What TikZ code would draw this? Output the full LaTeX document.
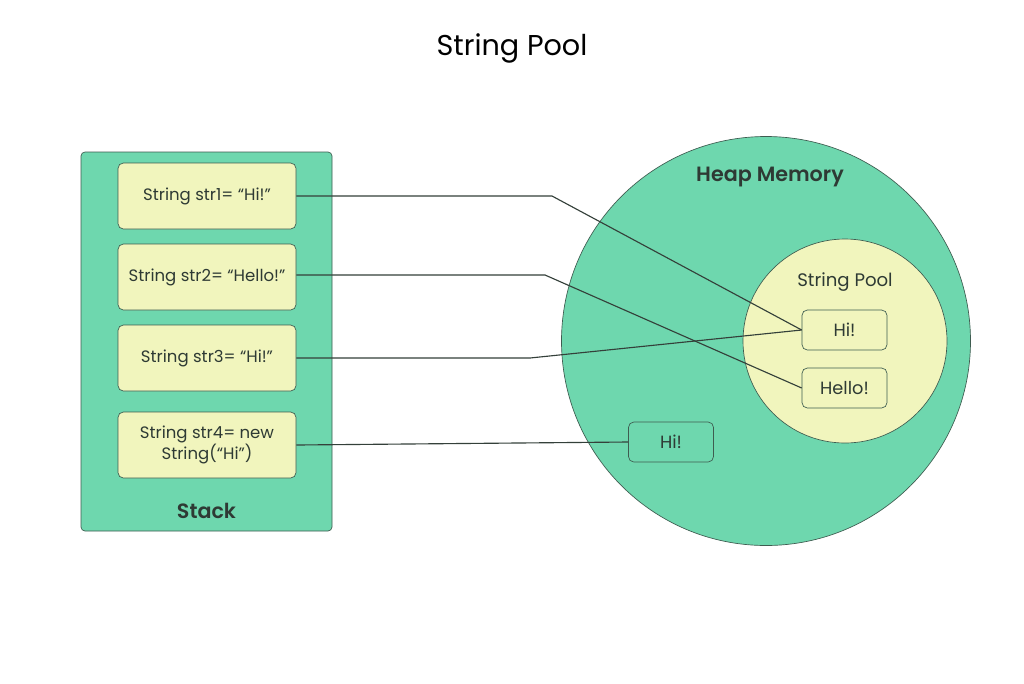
\documentclass[tikz,border=0pt]{standalone}
\usepackage{fontspec}
\setmainfont{Poppins}[BoldFont={Poppins SemiBold}]
\definecolor{grn}{HTML}{6ED7AE}
\definecolor{ylw}{HTML}{F1F5BD}
\definecolor{edge}{HTML}{3E5C50}
\definecolor{txt}{HTML}{2E3A34}
\definecolor{wire}{HTML}{34403A}
\begin{document}
\begin{tikzpicture}[x=0.75pt,y=-0.75pt,
  every node/.style={text=txt},
  stackbox/.style={draw=edge,line width=0.5pt,fill=grn,rounded corners=3pt,minimum width=188.25pt,minimum height=284.25pt,inner sep=0pt},
  varbox/.style={draw=edge,line width=0.5pt,fill=ylw,rounded corners=4pt,minimum width=133.5pt,minimum height=49.5pt,inner sep=0pt,align=center,font=\fontsize{12.4}{14.5}\selectfont},
  valbox/.style={draw=edge,line width=0.5pt,rounded corners=4pt,minimum width=63.75pt,minimum height=30pt,inner sep=0pt,font=\fontsize{13.3}{15}\selectfont},
  wireline/.style={draw=wire,line width=0.85pt}]
\useasboundingbox (0,0) rectangle (1024,683);
\fill[white] (0,0) rectangle (1024,683);
\node[text=black] (title) at (512,48) {\fontsize{21.5}{25}\selectfont String Pool};
% stack
\node[stackbox] (stack) at (206.5,341.5) {};
\node[font=\fontsize{15.5}{18}\selectfont\bfseries] (stacklbl) at (206.5,511) {Stack};
\node[varbox] (s1) at (207,196) {String str1= “Hi!”};
\node[varbox] (s2) at (207,277) {String str2= “Hello!”};
\node[varbox] (s3) at (207,358) {String str3= “Hi!”};
\node[varbox] (s4) at (207,445) {String str4= new\\String(“Hi”)};
% heap
\node[circle,draw=edge,line width=0.5pt,fill=grn,minimum size=306.75pt,inner sep=0pt] (heap) at (766,341) {};
\node[font=\fontsize{15.5}{18}\selectfont\bfseries] (heaplbl) at (770,177) {Heap Memory};
\node[circle,draw=edge,line width=0.5pt,fill=ylw,minimum size=153pt,inner sep=0pt] (pool) at (845,341) {};
\node[font=\fontsize{13.6}{16}\selectfont] (poollbl) at (845,282) {String Pool};
\node[valbox,fill=ylw] (hi1) at (844.5,330) {Hi!};
\node[valbox,fill=ylw] (hello) at (844.5,388) {Hello!};
\node[valbox,fill=grn] (hi2) at (671,442) {Hi!};
% bends
\coordinate (b1) at (552,196);
\coordinate (b2) at (545,275);
\coordinate (b3) at (530,358);
\draw[wireline] (s1.east |- b1) -- (b1) -- (hi1.west);
\draw[wireline] (s2.east |- b2) -- (b2) -- (hello.west);
\draw[wireline] (s3.east |- b3) -- (b3) -- (hi1.west);
\draw[wireline] (s4.east) -- (hi2.west);
\end{tikzpicture}
\end{document}
